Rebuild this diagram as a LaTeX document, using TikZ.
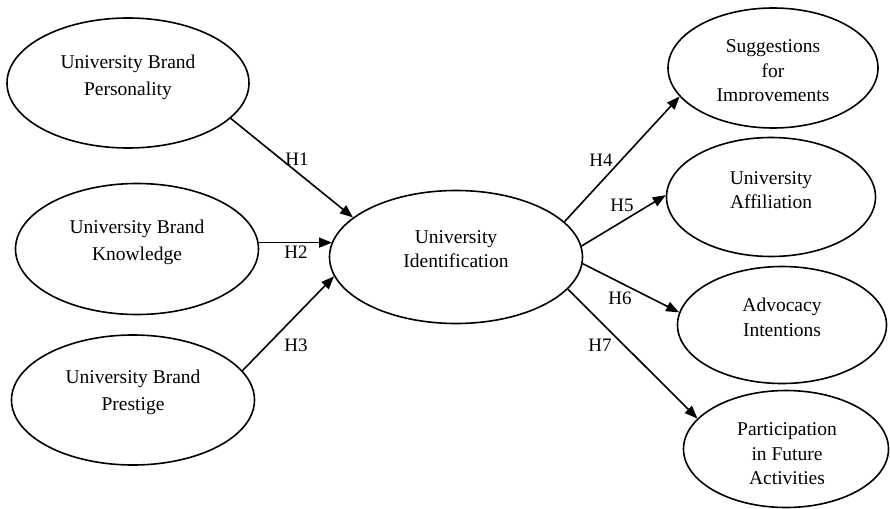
\documentclass[tikz,border=0pt]{standalone}
\usepackage{fontspec}
\setmainfont{Liberation Serif}
\usetikzlibrary{shapes.geometric,arrows.meta}

\begin{document}
\begin{tikzpicture}[x=1pt,y=-1pt,
  oval/.style={draw,ellipse,line width=1.6pt,inner sep=0pt},
  txt/.style={align=center,font=\fontsize{19.5}{27}\selectfont,inner sep=0pt},
  txtr/.style={align=center,font=\fontsize{19.5}{24.5}\selectfont,inner sep=0pt},
  hyp/.style={font=\fontsize{19}{22}\selectfont,inner sep=0pt},
  arr/.style={line width=1.6pt,-{Triangle[length=13pt,width=10pt]}}]
\useasboundingbox (0,0) rectangle (890,508);

% antecedents
\node[oval,minimum width=242pt,minimum height=130pt] (bp)  at (128,83)  {};
\node[oval,minimum width=243pt,minimum height=131pt] (bk)  at (137,249) {};
\node[oval,minimum width=243pt,minimum height=130pt] (bpr) at (133,400) {};
\node[txt] (bpt)  at (128,77)    {University Brand\\Personality};
\node[txt] (bkt)  at (137,242)   {University Brand\\Knowledge};
\node[txt] (bprt) at (133,392)   {University Brand\\Prestige};

% mediator
\node[oval,minimum width=253pt,minimum height=133pt] (ui) at (456,257) {};
\node[txtr] (uit) at (456,249) {University\\Identification};

% outcomes
\node[oval,minimum width=210pt,minimum height=120pt] (si) at (773,68)  {};
\node[oval,minimum width=209pt,minimum height=119pt] (ua) at (771,197) {};
\node[oval,minimum width=209pt,minimum height=117pt] (ai) at (782,325) {};
\node[oval,minimum width=205pt,minimum height=117pt] (pf) at (786,449) {};
\begin{scope}
  \clip (700,20) rectangle (850,101);
  \node[txtr] (sit) at (773,73) {Suggestions\\for\\Improvements};
\end{scope}
\node[txtr] (uat) at (771,190)   {University\\Affiliation};
\node[txtr] (ait) at (782,317.5) {Advocacy\\Intentions};
\node[txtr] (pft) at (787,454)   {Participation\\in Future\\Activities};

% hypothesised paths
\draw[arr] (bp.-19)  -- (ui.159);
\draw[arr] (bk.3)    -- (bk.3 -| ui.173);
\draw[arr] (bpr.15)  -- (ui.-171);
\draw[arr] (ui.18)   -- (si.-163);
\draw[arr] (ui.5.5)  -- (ua.179);
\draw[arr] (ui.-3)   -- (ai.173);
\draw[arr] (ui.-16)  -- (pf.161);

\node[hyp] (h1) at (297,159) {H1};
\node[hyp] (h2) at (296,252) {H2};
\node[hyp] (h3) at (296,345) {H3};
\node[hyp] (h4) at (601,160) {H4};
\node[hyp] (h5) at (622,205) {H5};
\node[hyp] (h6) at (620,298) {H6};
\node[hyp] (h7) at (600,345) {H7};
\end{tikzpicture}
\end{document}
